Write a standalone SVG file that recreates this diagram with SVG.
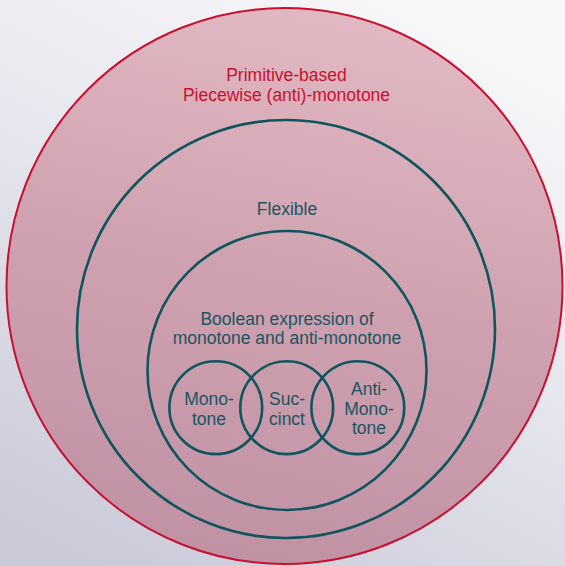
<svg xmlns="http://www.w3.org/2000/svg" width="565" height="566" viewBox="0 0 565 566">
<defs>
<linearGradient id="bg" x1="0.7" y1="0" x2="0.2" y2="1">
<stop offset="0" stop-color="#f7f7f9"/>
<stop offset="0.45" stop-color="#e6e6ee"/>
<stop offset="1" stop-color="#cbcad9"/>
</linearGradient>
<linearGradient id="fill" x1="0.6" y1="0" x2="0.4" y2="1">
<stop offset="0" stop-color="#e2b9c2"/>
<stop offset="0.5" stop-color="#cfa1b0"/>
<stop offset="1" stop-color="#bf91a3"/>
</linearGradient>
</defs>
<style>
.teal{fill:none;stroke:#0e5560;stroke-width:2.6}
.t{font-family:"Liberation Sans",Arial,sans-serif;font-size:17.5px;text-anchor:middle;fill:#1a5562}
.r{fill:#c8102e}
</style>
<rect width="565" height="566" fill="url(#bg)"/>
<g id="primitive">
<circle cx="284.5" cy="286" r="278" fill="url(#fill)" stroke="#c8102e" stroke-width="2"/>
<text class="t r" x="286.5" y="81">Primitive-based</text>
<text class="t r" x="286.5" y="101">Piecewise (anti)-monotone</text>
</g>
<g id="flexible">
<circle class="teal" cx="286" cy="329" r="209"/>
<text class="t" x="287" y="215">Flexible</text>
</g>
<g id="boolean">
<circle class="teal" cx="287" cy="370.5" r="139.5"/>
<text class="t" x="287" y="324.5">Boolean expression of</text>
<text class="t" x="287" y="343.5">monotone and anti-monotone</text>
</g>
<g id="monotone">
<circle class="teal" cx="215.8" cy="407.7" r="46.4"/>
<text class="t" x="209" y="405">Mono-</text>
<text class="t" x="209" y="424.5">tone</text>
</g>
<g id="succinct">
<circle class="teal" cx="286.7" cy="407.7" r="46.4"/>
<text class="t" x="287" y="405">Suc-</text>
<text class="t" x="287" y="424.5">cinct</text>
</g>
<g id="antimonotone">
<circle class="teal" cx="357.8" cy="407.7" r="46.4"/>
<text class="t" x="369" y="395">Anti-</text>
<text class="t" x="369" y="414.5">Mono-</text>
<text class="t" x="369" y="434">tone</text>
</g>
<g id="connectors"/>
</svg>
